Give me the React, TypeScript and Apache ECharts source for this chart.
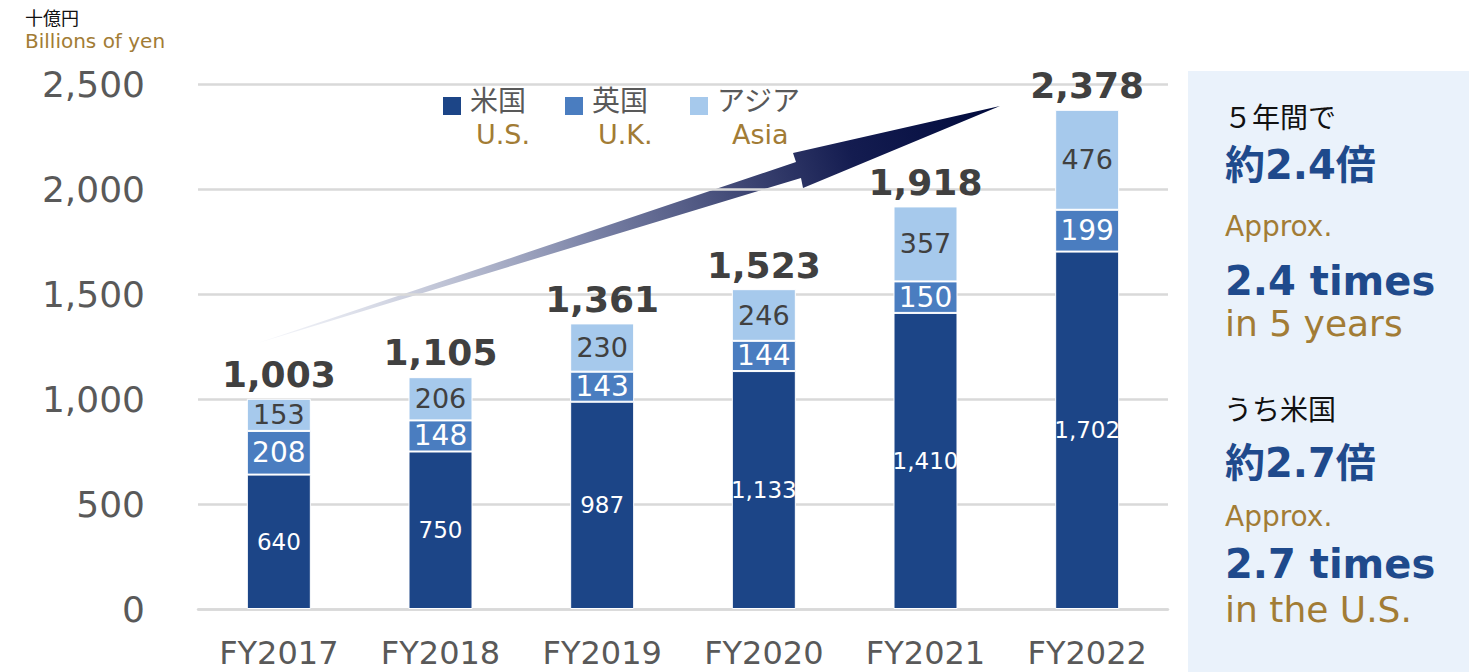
import React, { useEffect, useRef } from "react";
import * as echarts from "echarts";

const categories = ["FY2017", "FY2018", "FY2019", "FY2020", "FY2021", "FY2022"];
const usValues = [640, 750, 987, 1133, 1410, 1702];
const ukValues = [208, 148, 143, 144, 150, 199];
const asiaValues = [153, 206, 230, 246, 357, 476];
const totals = [1003, 1105, 1361, 1523, 1918, 2378];
const seriesNamesJa = ["米国", "英国", "アジア"];
const seriesNamesEn = ["U.S.", "U.K.", "Asia"];
const seriesColors = ["#1c4587", "#4a7dc0", "#a6c9ec"];
const yMin = 0;
const yMax = 2500;
const yInterval = 500;

const GOLD = "#a27c35";
const GREY = "#595959";
const DARK = "#404040";
const BLUE = "#1f4a8c";
const LATIN = "'DejaVu Sans', 'Noto Sans CJK JP', sans-serif";
const CJK = "'Noto Sans CJK JP', 'DejaVu Sans', sans-serif";

const fmt = (v: number) => v.toLocaleString("en-US");

export default function App() {
  const ref = useRef<HTMLDivElement>(null);
  useEffect(() => {
    if (!ref.current) return;
    const chart = echarts.init(ref.current, null, { renderer: "svg" });

    const legendX = [443, 565, 690];
    const legendGraphics: any[] = [];
    seriesNamesJa.forEach((ja, i) => {
      const x = legendX[i];
      legendGraphics.push({
        type: "rect",
        shape: { x, y: 97, width: 18, height: 18 },
        style: { fill: seriesColors[i] },
      });
      legendGraphics.push({
        type: "text",
        x: x + 27,
        y: 101,
        style: { text: ja, font: `28px ${LATIN}`, fill: GREY, verticalAlign: "middle" },
      });
      legendGraphics.push({
        type: "text",
        x: x + (i === 2 ? 42 : 33),
        y: 134,
        style: { text: seriesNamesEn[i], font: `27px ${LATIN}`, fill: GOLD, verticalAlign: "middle" },
      });
    });

    const panelTexts: any[] = [
      { t: "５年間で", y: 116, font: `28px ${CJK}`, fill: "#111", x: 1224 },
      { t: "約2.4倍", y: 165, font: `bold 40px ${LATIN}`, fill: BLUE, x: 1225 },
      { t: "Approx.", y: 226, font: `28px ${LATIN}`, fill: GOLD, x: 1225 },
      { t: "2.4 times", y: 281, font: `bold 40px ${LATIN}`, fill: BLUE, x: 1225 },
      { t: "in 5 years", y: 323, font: `36px ${LATIN}`, fill: GOLD, x: 1225 },
      { t: "うち米国", y: 408, font: `28px ${CJK}`, fill: "#111", x: 1224 },
      { t: "約2.7倍", y: 463, font: `bold 40px ${LATIN}`, fill: BLUE, x: 1225 },
      { t: "Approx.", y: 516, font: `28px ${LATIN}`, fill: GOLD, x: 1225 },
      { t: "2.7 times", y: 564, font: `bold 40px ${LATIN}`, fill: BLUE, x: 1225 },
      { t: "in the U.S.", y: 609, font: `36px ${LATIN}`, fill: GOLD, x: 1225 },
    ];

    const option: any = {
      animation: false,
      backgroundColor: "#ffffff",
      grid: { left: 198, right: 313, top: 84, bottom: 63, containLabel: false },
      xAxis: {
        type: "category",
        data: categories,
        axisLine: { show: true, lineStyle: { color: "#d9d9d9", width: 2.5 } },
        axisTick: { show: false },
        axisLabel: { color: GREY, fontSize: 32, fontFamily: LATIN, margin: 28 },
      },
      yAxis: {
        type: "value",
        min: yMin,
        max: yMax,
        interval: yInterval,
        axisLine: { show: false },
        axisTick: { show: false },
        splitLine: { lineStyle: { color: "#d9d9d9", width: 2.5 } },
        axisLabel: { color: GREY, fontSize: 36, fontFamily: LATIN, margin: 53, formatter: (v: number) => fmt(v) },
      },
      series: [
        {
          name: seriesNamesJa[0],
          type: "bar",
          stack: "total",
          barWidth: 64,
          data: usValues,
          itemStyle: { color: seriesColors[0], borderColor: "#ffffff", borderWidth: 1 },
          label: { show: true, position: "inside", color: "#ffffff", fontSize: 23, fontFamily: LATIN, formatter: (p: any) => fmt(p.value) },
        },
        {
          name: seriesNamesJa[1],
          type: "bar",
          stack: "total",
          barWidth: 64,
          data: ukValues,
          itemStyle: { color: seriesColors[1], borderColor: "#ffffff", borderWidth: 1 },
          label: { show: true, position: "inside", color: "#ffffff", fontSize: 28, fontFamily: LATIN, formatter: (p: any) => fmt(p.value) },
        },
        {
          name: seriesNamesJa[2],
          type: "bar",
          stack: "total",
          barWidth: 64,
          data: asiaValues,
          itemStyle: { color: seriesColors[2], borderColor: "#ffffff", borderWidth: 1 },
          label: { show: true, position: "inside", color: DARK, fontSize: 27, fontFamily: LATIN, formatter: (p: any) => fmt(p.value) },
        },
        {
          name: "total",
          type: "bar",
          barWidth: 64,
          barGap: "-100%",
          data: totals,
          silent: true,
          z: 1,
          itemStyle: { color: "rgba(0,0,0,0)" },
          label: {
            show: true,
            position: "top",
            distance: 6,
            color: DARK,
            fontSize: 36,
            fontWeight: "bold",
            fontFamily: LATIN,
            formatter: (p: any) => fmt(p.value),
          },
        },
      ],
      graphic: [
        {
          type: "rect",
          z: -10,
          shape: { x: 1188, y: 71, width: 281, height: 601 },
          style: { fill: "#eaf2fb" },
        },
        {
          type: "text",
          x: 25,
          y: 18,
          style: { text: "十億円", font: `18px ${LATIN}`, fill: "#111", verticalAlign: "middle" },
        },
        {
          type: "text",
          x: 25,
          y: 41,
          style: { text: "Billions of yen", font: `20px ${LATIN}`, fill: GOLD, verticalAlign: "middle" },
        },
        {
          type: "polygon",
          shape: {
            points: [
              [258, 343],
              [801, 178],
              [803, 188],
              [1000, 106],
              [793, 153],
              [796, 162],
            ],
          },
          style: {
            fill: {
              type: "linear",
              x: 258,
              y: 343,
              x2: 1000,
              y2: 106,
              global: true,
              colorStops: [
                { offset: 0, color: "rgba(235,238,246,0.5)" },
                { offset: 0.45, color: "#7a82a6" },
                { offset: 0.8, color: "#141c50" },
                { offset: 1, color: "#000a3c" },
              ],
            },
          },
        },
        ...legendGraphics,
        ...panelTexts.map((p) => ({
          type: "text",
          x: p.x,
          y: p.y,
          style: { text: p.t, font: p.font, fill: p.fill, verticalAlign: "middle" },
        })),
      ],
    };
    chart.setOption(option);
    return () => chart.dispose();
  }, []);
  return (
    <div
      ref={ref}
      style={{ position: "fixed", left: 0, top: 0, width: 1481, height: 672, background: "#fff" }}
    />
  );
}
